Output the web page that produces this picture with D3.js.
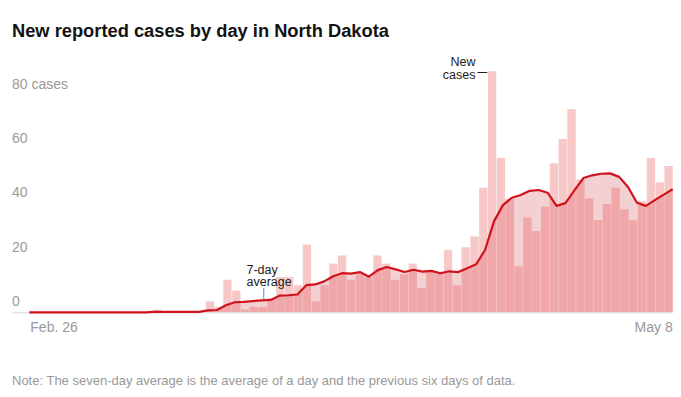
<!DOCTYPE html>
<html>
<head>
<meta charset="utf-8">
<script src="https://cdn.jsdelivr.net/npm/d3@7"></script>
<style>
  body { margin: 0; background: #fff; }
  svg { font-family: "Liberation Sans", Arial, sans-serif; display: block; }
</style>
</head>
<body>
<svg id="chart" width="681" height="397"></svg>
<script>
// first day shown, then one value per day up to May 8
const startDate = "2020-02-26";
const newCases = [
  0, 0, 0, 0, 0, 0, 0, 0, 0, 0,
  0, 0, 0, 0, 1, 0, 0, 0, 0, 0,
  4, 2, 12, 8, 1, 2, 2, 5, 13, 13,
  10, 25, 4, 10, 18, 21, 12, 14, 13, 21,
  18, 12, 14, 18, 9, 15, 15, 23, 10, 24,
  28, 46, 89, 57, 42, 17, 35, 30, 39, 55,
  64, 75, 49, 42, 34, 40, 46, 38, 34, 41,
  57, 48, 54
];
const yTicks = [0, 20, 40, 60, 80];
const xTickLabels = ["Feb. 26", "May 8"];

const width = 681, height = 397;
const left = 29.3, right = 672.7, bottom = 312.3;

const parse = d3.timeParse("%Y-%m-%d");
const days = newCases.map((v, i) => d3.timeDay.offset(parse(startDate), i));

// 7-day average: the day and the six before it
const avg = newCases.map((v, i) => d3.mean(newCases.slice(Math.max(0, i - 6), i + 1)));

const data = days.map((d, i) => ({ date: d, i: i, cases: newCases[i], avg: avg[i] }));

const svg = d3.select("#chart");

const x = d3.scaleBand()
    .domain(d3.range(data.length))
    .range([left, right])
    .paddingInner(0.06);

// the line runs edge to edge
const xl = d3.scaleLinear()
    .domain([0, data.length - 1])
    .range([left, right]);

const y = d3.scaleLinear()
    .domain([0, 80])
    .range([bottom, 95.6]);

// Title
svg.append("text")
    .attr("x", 12)
    .attr("y", 36.5)
    .attr("font-size", "18.3px")
    .attr("font-weight", "bold")
    .attr("fill", "#121212")
    .text("New reported cases by day in North Dakota");

// Y labels
svg.append("g")
    .selectAll("text")
    .data(yTicks)
    .join("text")
    .attr("x", 12)
    .attr("y", d => y(d) - 6.5)
    .attr("font-size", "14px")
    .attr("fill", "#999")
    .text(d => d === 80 ? d + " cases" : d);

// area under the average
const area = d3.area()
    .x(d => xl(d.i))
    .y0(y(0))
    .y1(d => y(d.avg));

svg.append("path")
    .datum(data)
    .attr("d", area)
    .attr("fill", "#f3d1d3");

svg.append("clipPath")
    .attr("id", "under-avg")
    .append("path")
    .datum(data)
    .attr("d", area);

// bars (light) then the same bars clipped to the area (darker)
svg.append("g")
    .selectAll("rect")
    .data(data)
    .join("rect")
    .attr("x", d => x(d.i))
    .attr("width", x.bandwidth())
    .attr("y", d => y(d.cases))
    .attr("height", d => y(0) - y(d.cases))
    .attr("fill", "#f8c7c7");

svg.append("g")
    .attr("clip-path", "url(#under-avg)")
    .selectAll("rect")
    .data(data)
    .join("rect")
    .attr("x", d => x(d.i))
    .attr("width", x.bandwidth())
    .attr("y", d => y(d.cases))
    .attr("height", d => y(0) - y(d.cases))
    .attr("fill", "#efa7a9");

// baseline
svg.append("line")
    .attr("x1", 12)
    .attr("x2", right)
    .attr("y1", y(0) + 0.5)
    .attr("y2", y(0) + 0.5)
    .attr("stroke", "#d9d9d9")
    .attr("stroke-width", 1);

// 7-day average line
svg.append("path")
    .datum(data)
    .attr("d", d3.line().x(d => xl(d.i)).y(d => y(d.avg)))
    .attr("fill", "none")
    .attr("stroke", "#d0121c")
    .attr("stroke-width", 2.2)
    .attr("stroke-linejoin", "round");

// X labels
svg.append("text")
    .attr("x", x(0) + 1)
    .attr("y", 331.5)
    .attr("font-size", "14px")
    .attr("fill", "#999")
    .text(xTickLabels[0]);

svg.append("text")
    .attr("x", right)
    .attr("y", 331.5)
    .attr("text-anchor", "end")
    .attr("font-size", "14px")
    .attr("fill", "#999")
    .text(xTickLabels[1]);

// annotation: 7-day average
const avgNote = 26;
const ax = x(avgNote) + x.bandwidth() / 2 + 1;
svg.append("line")
    .attr("x1", ax).attr("x2", ax)
    .attr("y1", 288).attr("y2", y(avg[avgNote]) - 1)
    .attr("stroke", "#4f8fc4")
    .attr("stroke-width", 1);
svg.append("text")
    .attr("x", 246.5)
    .attr("font-size", "12.5px")
    .attr("fill", "#222")
    .selectAll("tspan")
    .data(["7-day", "average"])
    .join("tspan")
    .attr("x", 246.5)
    .attr("y", (d, i) => 273.5 + i * 12.8)
    .text(d => d);

// annotation: New cases
const peak = newCases.indexOf(d3.max(newCases));
svg.append("line")
    .attr("x1", x(peak) - 10.5).attr("x2", x(peak) - 0.7)
    .attr("y1", 72.5).attr("y2", 72.5)
    .attr("stroke", "#222")
    .attr("stroke-width", 1);
svg.append("text")
    .attr("font-size", "12.5px")
    .attr("fill", "#222")
    .attr("text-anchor", "end")
    .selectAll("tspan")
    .data(["New", "cases"])
    .join("tspan")
    .attr("x", x(peak) - 12.5)
    .attr("y", (d, i) => 66.3 + i * 12.8)
    .text(d => d);

// Note
svg.append("text")
    .attr("x", 12)
    .attr("y", 384.5)
    .attr("font-size", "13px")
    .attr("fill", "#999")
    .text("Note: The seven-day average is the average of a day and the previous six days of data.");
</script>
</body>
</html>
